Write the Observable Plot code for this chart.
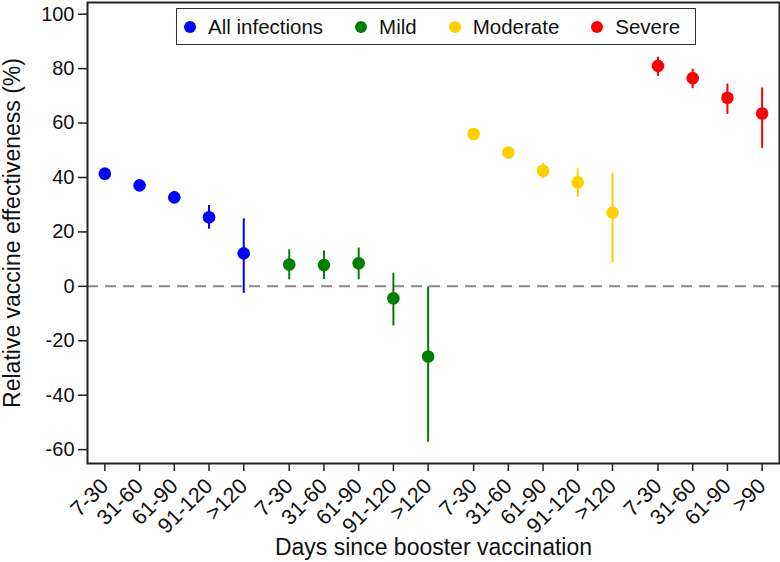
<!DOCTYPE html>
<html>
<head>
<meta charset="utf-8">
<script src="https://cdn.jsdelivr.net/npm/d3@7"></script>
<script src="https://cdn.jsdelivr.net/npm/@observablehq/plot@0.6"></script>
<style>
  html, body { margin: 0; padding: 0; background: #fff; }
  #wrap { position: relative; width: 780px; height: 562px; font-family: "Liberation Sans", Arial, sans-serif; }
  #legend {
    position: absolute; left: 176px; top: 8px; width: 511px; height: 35px;
    border: 1.5px solid #333; background: #fff; box-sizing: content-box;
    display: flex; align-items: center; padding-left: 7px; gap: 32px;
    font-size: 20.5px; color: #111;
  }
  #legend .item { display: flex; align-items: center; white-space: nowrap; }
  #legend .dot { width: 12px; height: 12px; border-radius: 50%; margin-right: 12px; }
</style>
</head>
<body>
<div id="wrap"><div id="legend"></div></div>
<script>
// ---- data ----
const groups = ["All infections", "Mild", "Moderate", "Severe"];
const groupColors = ["#0000FF", "#007F00", "#FFD000", "#FF0000"];

const periodsLong = ["7-30", "31-60", "61-90", "91-120", ">120"];
const periodsSevere = ["7-30", "31-60", "61-90", ">90"];

const allVE = [41.4, 37.1, 32.7, 25.4, 12.1];
const allLo = [40.3, 35.9, 30.5, 21.0, -2.6];
const allHi = [42.5, 38.3, 34.9, 29.7, 24.8];

const mildVE = [8.0, 7.8, 8.5, -4.4, -25.8];
const mildLo = [2.4, 2.5, 2.4, -14.6, -57.3];
const mildHi = [13.4, 13.0, 14.1, 4.8, -0.2];

const modVE = [56.0, 49.2, 42.5, 38.2, 27.1];
const modLo = [55.0, 48.2, 39.5, 32.7, 8.6];
const modHi = [57.0, 50.2, 45.2, 43.2, 41.7];

const sevVE = [81.0, 76.5, 69.3, 63.5];
const sevLo = [77.1, 72.6, 63.2, 50.7];
const sevHi = [84.2, 79.8, 74.3, 72.9];

const yTicks = [-60, -40, -20, 0, 20, 40, 60, 80, 100];
const xTitle = "Days since booster vaccination";
const yTitle = "Relative vaccine effectiveness (%)";

// ---- build table ----
const series = [
  {periods: periodsLong, ve: allVE, lo: allLo, hi: allHi},
  {periods: periodsLong, ve: mildVE, lo: mildLo, hi: mildHi},
  {periods: periodsLong, ve: modVE, lo: modLo, hi: modHi},
  {periods: periodsSevere, ve: sevVE, lo: sevLo, hi: sevHi}
];
const groupGap = 0.31; // extra spacing between groups, in slot units
const rows = [];
let slot = 0;
series.forEach((s, g) => {
  s.periods.forEach((p, i) => {
    rows.push({group: groups[g], period: p, pos: slot + g * groupGap, ve: s.ve[i], lo: s.lo[i], hi: s.hi[i]});
    slot++;
  });
});
const positions = rows.map(d => d.pos);
const labelAt = new Map(rows.map(d => [d.pos, d.period]));
const xMax = d3.max(positions);

const chart = Plot.plot({
  width: 780,
  height: 562,
  marginLeft: 87,
  marginRight: 1,
  marginTop: 2,
  marginBottom: 99,
  style: {fontFamily: "'Liberation Sans', Arial, sans-serif", color: "#111", background: "transparent"},
  x: {type: "linear", domain: [-0.5, xMax + 0.5]},
  y: {domain: [-65.1, 104.3]},
  color: {domain: groups, range: groupColors},
  marks: [
    Plot.ruleY([0], {stroke: "#888", strokeWidth: 2, strokeDasharray: "11,7"}),
    Plot.ruleX(rows, {x: "pos", y1: "lo", y2: "hi", stroke: "group", strokeWidth: 2}),
    Plot.dot(rows, {x: "pos", y: "ve", r: 6.3, fill: "group", stroke: "none"}),
    Plot.frame({stroke: "#222", strokeWidth: 2}),
    Plot.axisY({ticks: yTicks, tickFormat: d => String(d), tickSize: 9, tickPadding: 4, fontSize: 20, label: null, stroke: "#222", strokeWidth: 1.5}),
    Plot.axisX({ticks: positions, tickFormat: d => labelAt.get(d), tickRotate: -45, tickSize: 8, tickPadding: 11, fontSize: 21.5, label: null, stroke: "#222", strokeWidth: 1.5}),
    Plot.text([xTitle], {text: d => d, frameAnchor: "bottom", dy: 91, fontSize: 23, lineAnchor: "bottom", fill: "#111"}),
    Plot.text([yTitle], {text: d => d, frameAnchor: "left", textAnchor: "middle", rotate: -90, dx: -75, fontSize: 23, fill: "#111"})
  ]
});
const wrap = document.getElementById("wrap");
wrap.insertBefore(chart, wrap.firstChild);

const legend = document.getElementById("legend");
groups.forEach((g, i) => {
  const item = document.createElement("div");
  item.className = "item";
  const dot = document.createElement("span");
  dot.className = "dot";
  dot.style.background = groupColors[i];
  const label = document.createElement("span");
  label.textContent = g;
  item.appendChild(dot);
  item.appendChild(label);
  legend.appendChild(item);
});
</script>
</body>
</html>
